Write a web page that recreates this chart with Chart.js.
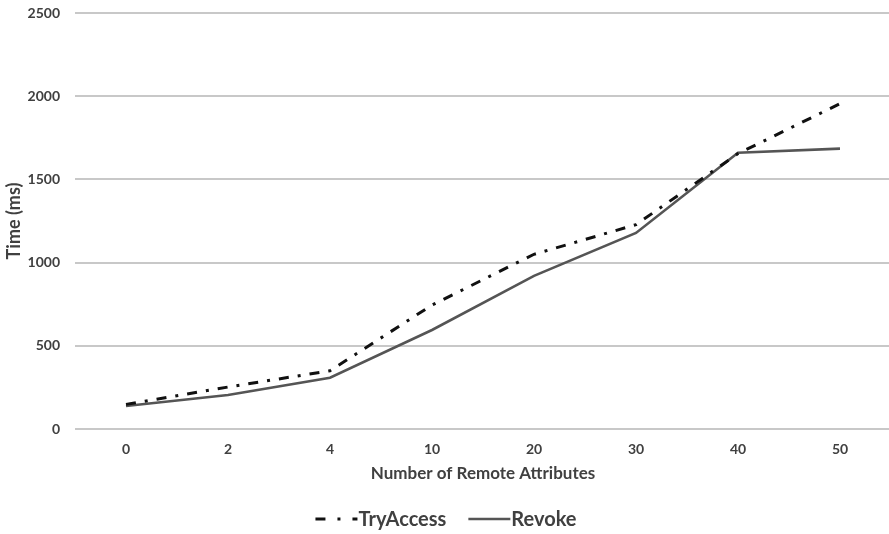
<!DOCTYPE html>
<html>
<head>
<meta charset="utf-8">
<script src="https://cdn.jsdelivr.net/npm/chart.js@4.4.1/dist/chart.umd.min.js"></script>
<style>
  html, body { margin: 0; padding: 0; background: #ffffff; overflow: hidden; }
  #wrap { position: relative; width: 891px; height: 534px; }
</style>
</head>
<body>
<div id="wrap"><canvas id="chart"></canvas></div>
<script>
// Response time per number of remote attributes
const categories = ['0', '2', '4', '10', '20', '30', '40', '50'];
const tryAccessTimes = [148, 252, 350, 745, 1050, 1228, 1655, 1955];
const revokeTimes = [138, 204, 308, 595, 920, 1178, 1660, 1685];
const yTicks = [0, 500, 1000, 1500, 2000, 2500];

const FONT = 'Lato, "Open Sans", sans-serif';
const TEXT = '#404040';

// Legend drawn below the axis title: short line sample followed by the label
const bottomLegend = {
  id: 'bottomLegend',
  afterDraw(chart) {
    const ctx = chart.ctx;
    const items = chart.data.datasets.map(ds => ({
      text: ds.label,
      color: ds.borderColor,
      width: ds.borderWidth,
      dash: ds.legendDash || []
    }));
    ctx.save();
    ctx.font = 'bold 20px ' + FONT;
    const sampleW = 42, gapText = 1, gapItem = 22;
    let total = 0;
    items.forEach((it, i) => {
      it.tw = ctx.measureText(it.text).width;
      total += sampleW + gapText + it.tw + (i ? gapItem : 0);
    });
    let x = 446 - total / 2;
    const y = 519;
    items.forEach(it => {
      ctx.beginPath();
      ctx.setLineDash(it.dash);
      ctx.lineWidth = it.width;
      ctx.strokeStyle = it.color;
      ctx.moveTo(x, y);
      ctx.lineTo(x + sampleW, y);
      ctx.stroke();
      ctx.setLineDash([]);
      ctx.fillStyle = TEXT;
      ctx.textBaseline = 'middle';
      ctx.textAlign = 'left';
      ctx.fillText(it.text, x + sampleW + gapText, y + 1);
      x += sampleW + gapText + it.tw + gapItem;
    });
    ctx.restore();
  }
};

new Chart(document.getElementById('chart'), {
  type: 'line',
  data: {
    labels: categories,
    datasets: [
      {
        label: 'TryAccess',
        data: tryAccessTimes,
        borderColor: '#111111',
        borderWidth: 3,
        borderDash: [10, 9, 3, 9],
        legendDash: [10, 12, 3, 12],
        pointRadius: 0,
        tension: 0,
        fill: false
      },
      {
        label: 'Revoke',
        data: revokeTimes,
        borderColor: '#555555',
        borderWidth: 2.6,
        pointRadius: 0,
        tension: 0,
        fill: false
      }
    ]
  },
  options: {
    responsive: true,
    maintainAspectRatio: false,
    animation: false,
    layout: { padding: { top: 13, right: 0, bottom: 46, left: 0 } },
    plugins: {
      legend: { display: false },
      tooltip: { enabled: false }
    },
    scales: {
      x: {
        offset: true,
        afterFit(scale) {
          scale.height = 59;
          scale.paddingLeft = 0;
          scale.paddingRight = 0;
        },
        grid: { display: false, drawTicks: false },
        border: { display: false },
        ticks: {
          padding: 12,
          color: TEXT,
          font: { family: FONT, size: 14, weight: 'bold' },
          maxRotation: 0
        },
        title: {
          display: true,
          text: 'Number of Remote Attributes',
          color: TEXT,
          padding: { top: 4, bottom: 4 },
          font: { family: FONT, size: 17, weight: 'bold' }
        }
      },
      y: {
        min: 0,
        max: 2500,
        afterBuildTicks(scale) {
          scale.ticks = yTicks.map(v => ({ value: v }));
        },
        afterFit(scale) {
          scale.width = 75;
          scale.paddingTop = 0;
          scale.paddingBottom = 0;
        },
        grid: { color: '#c8c8c8', lineWidth: 2, drawTicks: false },
        border: { display: false },
        ticks: {
          padding: 15,
          color: TEXT,
          font: { family: FONT, size: 14, weight: 'bold' },
          callback: v => String(v)
        },
        title: {
          display: true,
          text: 'Time (ms)',
          color: TEXT,
          padding: { top: 3, bottom: 4 },
          font: { family: FONT, size: 18, weight: 'bold' }
        }
      }
    }
  },
  plugins: [bottomLegend]
});
</script>
</body>
</html>
